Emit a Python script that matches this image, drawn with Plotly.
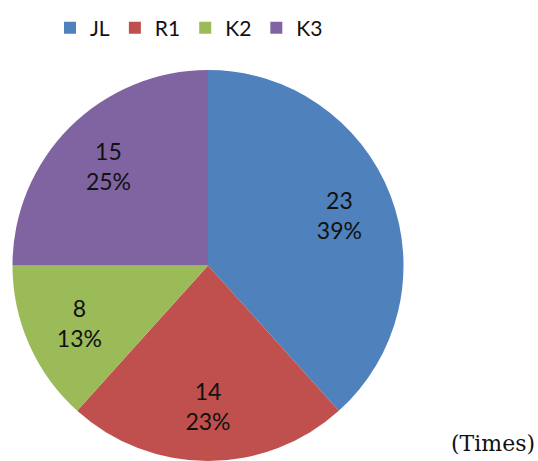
import plotly.graph_objects as go

categories = ["JL", "R1", "K2", "K3"]
values = [23, 14, 8, 15]
percent_labels = ["39%", "23%", "13%", "25%"]
colors = ["#4F81BD", "#C0504D", "#9BBB59", "#8064A2"]

W, H = 538, 461
dom = dict(x=[10 / W, 406 / W], y=[0, 1 - 70 / H])

# Filled pie (colours + legend)
fig = go.Figure(go.Pie(
    labels=categories,
    values=values,
    textinfo="none",
    marker=dict(colors=colors, line=dict(width=0)),
    sort=False,
    direction="clockwise",
    rotation=0,
    domain=dom,
    hoverinfo="label+value+percent",
))

# Transparent ring carrying the data labels further out, like Excel places them
fig.add_trace(go.Pie(
    labels=categories,
    values=values,
    text=percent_labels,
    texttemplate="%{value}<br>%{text}",
    textposition="inside",
    insidetextorientation="horizontal",
    textfont=dict(family="Lato, Open Sans, sans-serif", size=23, color="#111111"),
    marker=dict(colors=["rgba(0,0,0,0)"] * len(values), line=dict(width=0)),
    sort=False,
    direction="clockwise",
    rotation=0,
    hole=0.44,
    domain=dom,
    showlegend=False,
    hoverinfo="skip",
))

fig.update_layout(
    width=W, height=H,
    margin=dict(l=0, r=0, t=0, b=0),
    paper_bgcolor="white",
    plot_bgcolor="white",
    showlegend=True,
    legend=dict(
        orientation="h",
        x=50 / W, xanchor="left",
        y=1 - 28 / H, yanchor="middle",
        font=dict(family="Lato, Open Sans, sans-serif", size=21, color="#111111"),
        traceorder="normal",
    ),
    annotations=[dict(
        text="(Times)",
        x=537 / W, xanchor="right",
        y=1 - 443 / H, yanchor="middle",
        xref="paper", yref="paper",
        showarrow=False,
        font=dict(family="DejaVu Serif, Liberation Serif, serif", size=22, color="#111111"),
    )],
)

fig.write_html("out.html")
